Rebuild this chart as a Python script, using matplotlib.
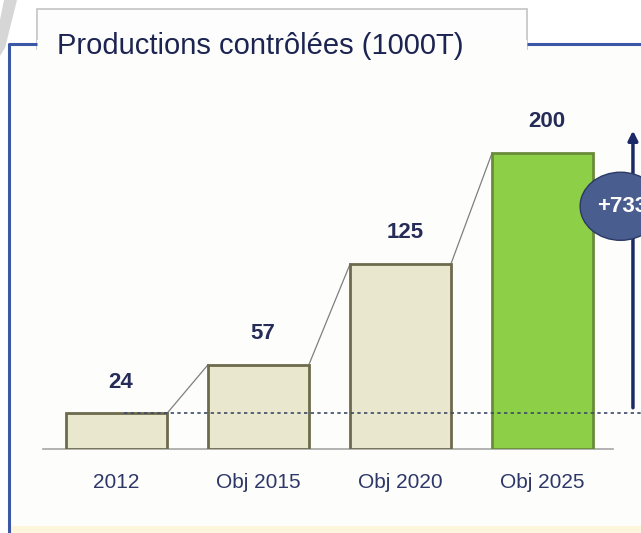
import numpy as np
import matplotlib.pyplot as plt
from matplotlib.patches import Ellipse, Rectangle, Polygon

categories = ["2012", "Obj 2015", "Obj 2020", "Obj 2025"]
values = [24, 57, 125, 200]
growth_label = "+733%"
title = "Productions contrôlées (1000T)"

plt.rcParams['font.family'] = ['Liberation Sans', 'DejaVu Sans']

fig = plt.figure(figsize=(6.41, 5.33), dpi=100)

# overlay in pixel coords for the frame / tab
bg = fig.add_axes([0, 0, 1, 1])
bg.set_xlim(0, 641)
bg.set_ylim(533, 0)
bg.axis("off")
bg.add_patch(Polygon([(4, 0), (17, 0), (5, 48), (0, 56), (0, 20)], closed=True,
                     facecolor="#d6d6d6", edgecolor="none"))
bg.add_patch(Rectangle((9, 44), 640, 495, facecolor="#fdfdfb", edgecolor="none"))
bg.plot([9, 9, 37], [533, 44, 44], color="#3b57a5", lw=2.2, solid_capstyle="butt")
bg.plot([527, 641], [44, 44], color="#3b57a5", lw=2.2, solid_capstyle="butt")
bg.add_patch(Rectangle((37, 9), 490, 40, facecolor="#fdfdfd", edgecolor="#c4c4c4", lw=1.2))
bg.add_patch(Rectangle((37, 40), 490, 12, facecolor="#fdfdfb", edgecolor="none"))
bg.add_patch(Rectangle((10, 526), 631, 7, facecolor="#fdf5dc", edgecolor="none"))
bg.text(57, 46, title, fontsize=21, color="#1c2451", va="center", ha="left")

ax = fig.add_axes([43 / 641, 84 / 533, 570 / 641, 349 / 533])
ax.set_xlim(-0.5176, 3.4965)
ax.set_ylim(0, 235.8)
ax.patch.set_alpha(0)

x = np.arange(len(categories))
w = 0.71
fills = ["#e9e7cd"] * 3 + ["#8dcf47"]
edges = ["#6d6b4c"] * 3 + ["#6a8c3a"]
ax.bar(x, values, width=w, color=fills, edgecolor=edges, linewidth=2, zorder=3)

# connectors between bar tops
for i in range(len(values) - 1):
    ax.plot([x[i] + w / 2, x[i + 1] - w / 2], [values[i], values[i + 1]],
            color="#7f7f7f", lw=0.9, zorder=2)

# value labels
for xi, v in zip(x, values):
    ax.text(xi + 0.03, v + 21, str(v), ha="center", va="center", fontsize=16,
            fontweight="bold", color="#262c58")

# dashed reference line at 2012 level
ax.plot([0.05, 3.8], [values[0], values[0]], color="#3e4a66", lw=1.2,
        ls=(0, (2, 2)), zorder=4, clip_on=False)

# growth arrow and bubble
ax.annotate("", xy=(3.637, 217), xytext=(3.637, values[0] + 2),
            arrowprops=dict(arrowstyle="-|>", color="#1b2a66", lw=2.5,
                            mutation_scale=14), annotation_clip=False, zorder=5)
ax.add_patch(Ellipse((3.55, 164), 0.57, 46, facecolor="#4a5d8f",
                     edgecolor="#2b3966", lw=1, zorder=6, clip_on=False))
ax.text(3.385, 164, growth_label, ha="left", va="center", fontsize=16,
        fontweight="bold", color="white", zorder=7, clip_on=False)

for s in ["top", "right", "left"]:
    ax.spines[s].set_visible(False)
ax.spines["bottom"].set_color("#a6a6a6")
ax.spines["bottom"].set_linewidth(1.2)
ax.set_yticks([])
ax.set_xticks(x)
ax.set_xticklabels(categories, fontsize=15, color="#2e3868")
ax.tick_params(axis="x", length=0, pad=17)

fig.savefig("out.png", dpi=100)
